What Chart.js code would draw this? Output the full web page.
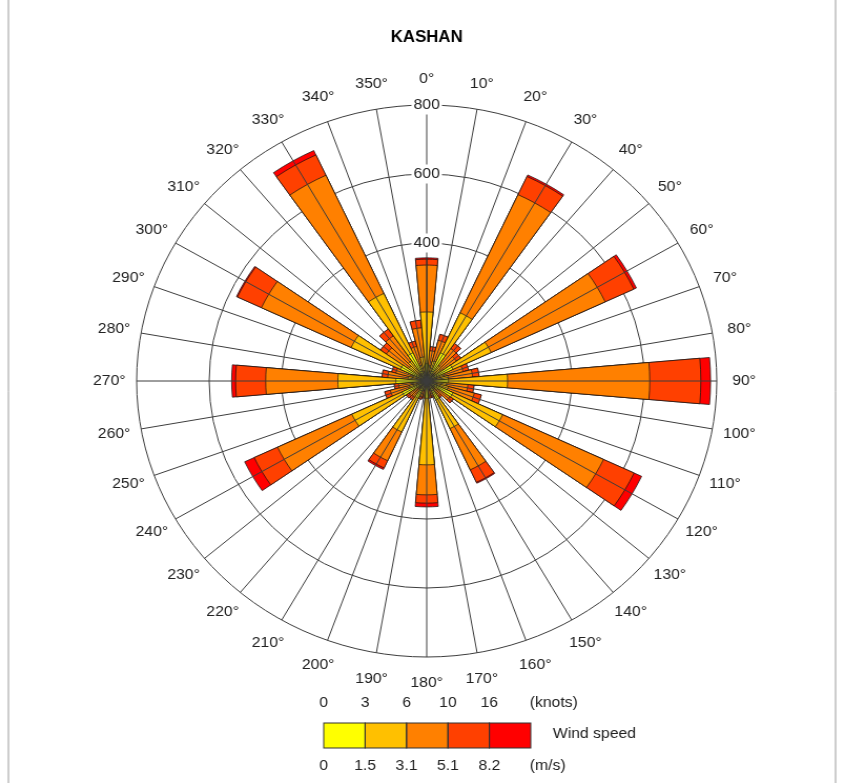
<!DOCTYPE html>
<html>
<head>
<meta charset="utf-8">
<title>KASHAN wind rose</title>
<script src="https://cdn.jsdelivr.net/npm/chart.js@4/dist/chart.umd.min.js"></script>
<style>
  html, body { margin: 0; padding: 0; background: #fff; overflow: hidden; }
  #wrap { width: 804px; height: 783px; transform: scaleX(1.051); transform-origin: 0 0; }
</style>
</head>
<body>
<div id="wrap"><canvas id="rose" width="804" height="783"></canvas></div>
<script>
// Wind directions (degrees from north, clockwise)
const directions = [0, 10, 20, 30, 40, 50, 60, 70, 80, 90, 100, 110, 120, 130, 140, 150, 160, 170,
                    180, 190, 200, 210, 220, 230, 240, 250, 260, 270, 280, 290, 300, 310, 320, 330, 340, 350];

// Frequency per direction for each wind speed class
const speed0to1_5   = [50, 15, 18, 90, 18, 15, 80, 15, 18, 60, 17, 18, 80, 14, 12, 60, 12, 12,
                       50, 12, 12, 55, 12, 12, 75, 15, 14, 85, 16, 15, 80, 18, 20, 90, 15, 20];
const speed1_5to3_1 = [150, 30, 42, 128, 37, 33, 116, 35, 42, 163, 38, 44, 151, 24, 18, 92, 13, 13,
                       193, 13, 15, 108, 18, 18, 153, 35, 24, 160, 36, 27, 150, 44, 52, 190, 33, 50];
const speed3_1to5_1 = [136, 43, 62, 378, 60, 52, 347, 54, 67, 392, 59, 74, 307, 40, 22, 132, 19, 19,
                       87, 19, 21, 92, 28, 30, 226, 54, 40, 199, 56, 46, 273, 74, 88, 378, 56, 85];
const speed5_1to8_2 = [17, 12, 18, 58, 18, 15, 87, 16, 18, 141, 17, 20, 93, 12, 8, 40, 6, 6,
                       24, 6, 7, 23, 9, 10, 71, 16, 12, 83, 16, 12, 73, 20, 24, 65, 16, 22];
const speedAbove8_2 = [4, 0, 0, 5, 0, 0, 8, 0, 0, 27, 0, 0, 23, 0, 0, 3, 0, 0,
                       11, 0, 0, 5, 0, 0, 29, 0, 0, 11, 0, 0, 3, 0, 0, 14, 0, 0];

const speedSeries = [speed0to1_5, speed1_5to3_1, speed3_1to5_1, speed5_1to8_2, speedAbove8_2];
const speedColors = ['#FFFF00', '#FFC000', '#FF8000', '#FF4000', '#FF0000'];

// Radial axis and legend labels
const radialTicks = [200, 400, 600, 800];
const knotsLabels = ['0', '3', '6', '10', '16'];
const msLabels = ['0', '1.5', '3.1', '5.1', '8.2'];

const FONT = "'Liberation Sans', Arial, Helvetica, sans-serif";
Chart.defaults.font.family = FONT;

// Rose geometry on the canvas
const ROSE_CX = 406, ROSE_CY = 381, ROSE_R = 276;

// Stack the classes: each ring is the running total up to that class
const stacked = speedSeries.map((_, k) =>
  directions.map((d, i) => speedSeries.slice(0, k + 1).reduce((sum, arr) => sum + arr[i], 0)));

// North wedge is split into two half-wedges (first and last) so that
// every wedge is centred on its own direction.
const wrapAround = arr => [...arr, arr[0]];
const wedgeLabels = wrapAround(directions).map(d => d + '°');
const wedgeAngle = ctx =>
  (ctx.dataIndex === 0 || ctx.dataIndex === directions.length) ? 5 : 10;

const datasets = stacked.map((vals, k) => ({
  label: 'class ' + k,
  data: wrapAround(vals),
  backgroundColor: speedColors[k],
  borderColor: 'rgba(20,20,20,0.9)',
  borderWidth: 0.8,
  angle: wedgeAngle
}));

const toXY = (scale, deg, r) => {
  const a = deg * Math.PI / 180;
  return [scale.xCenter + r * Math.sin(a), scale.yCenter - r * Math.cos(a)];
};

// Radial spokes through the middle of each direction's wedge
const spokes = {
  id: 'spokes',
  afterDatasetsDraw(chart) {
    const s = chart.scales.r;
    const ctx = chart.ctx;
    const R = s.getDistanceFromCenterForValue(s.max);
    ctx.save();
    ctx.strokeStyle = '#3c3c3c';
    ctx.lineWidth = 1;
    ctx.beginPath();
    directions.forEach(d => {
      const [x, y] = toXY(s, d, R);
      ctx.moveTo(s.xCenter, s.yCenter);
      ctx.lineTo(x, y);
    });
    ctx.stroke();
    ctx.restore();
  }
};

// Direction labels, speed legend and frame
const decorations = {
  id: 'decorations',
  afterDraw(chart) {
    const s = chart.scales.r;
    const ctx = chart.ctx;
    ctx.save();
    ctx.fillStyle = '#222';
    ctx.font = '15px ' + FONT;
    ctx.textAlign = 'center';
    ctx.textBaseline = 'middle';
    const labelR = s.drawingArea + 26;
    directions.forEach(d => {
      const [x, y] = toXY(s, d, labelR);
      ctx.fillText(d + '°', x, y);
    });

    // speed legend
    const bw = 39.4, bh = 25;
    const left = s.xCenter - 98;
    const top = 723;
    speedColors.forEach((c, k) => {
      ctx.fillStyle = c;
      ctx.fillRect(left + k * bw, top, bw, bh);
    });
    ctx.strokeStyle = '#333';
    ctx.lineWidth = 1;
    speedColors.forEach((c, k) => ctx.strokeRect(left + k * bw, top, bw, bh));

    ctx.fillStyle = '#222';
    knotsLabels.forEach((t, k) => ctx.fillText(t, left + k * bw, 703));
    msLabels.forEach((t, k) => ctx.fillText(t, left + k * bw, 766));
    ctx.textAlign = 'left';
    const unitX = left + speedColors.length * bw - 1;
    ctx.fillText('(knots)', unitX, 703);
    ctx.fillText('(m/s)', unitX, 766);
    ctx.fillText('Wind speed', left + speedColors.length * bw + 21, 734);

    // frame
    ctx.strokeStyle = '#9a9a9a';
    ctx.lineWidth = 1;
    ctx.beginPath();
    ctx.moveTo(8, 0); ctx.lineTo(8, chart.height);
    ctx.moveTo(795, 0); ctx.lineTo(795, chart.height);
    ctx.stroke();
    ctx.restore();
  }
};

new Chart(document.getElementById('rose'), {
  type: 'polarArea',
  data: { labels: wedgeLabels, datasets },
  options: {
    responsive: false,
    animation: false,
    devicePixelRatio: 1,
    layout: { padding: { left: 130, right: 122, top: 0, bottom: 126 } },
    plugins: {
      legend: { display: false },
      tooltip: { enabled: false },
      title: {
        display: true,
        text: 'KASHAN',
        color: '#000',
        font: { size: 16, weight: 'bold', family: FONT },
        padding: { top: 28, bottom: 48.3 }
      }
    },
    scales: {
      r: {
        z: 1,
        min: 0,
        max: 800,
        startAngle: 0,
        afterBuildTicks: scale => { scale.ticks = radialTicks.map(v => ({ value: v })); },
        afterFit: scale => {
          scale.xCenter = ROSE_CX;
          scale.yCenter = ROSE_CY;
          scale.drawingArea = ROSE_R;
        },
        ticks: {
          color: '#222',
          font: { size: 15, family: FONT },
          showLabelBackdrop: true,
          backdropColor: '#fff',
          backdropPadding: 2,
          z: 1
        },
        grid: { circular: true, color: '#3c3c3c', lineWidth: 1 },
        angleLines: { display: false },
        pointLabels: { display: false }
      }
    }
  },
  plugins: [spokes, decorations]
});
</script>
</body>
</html>
